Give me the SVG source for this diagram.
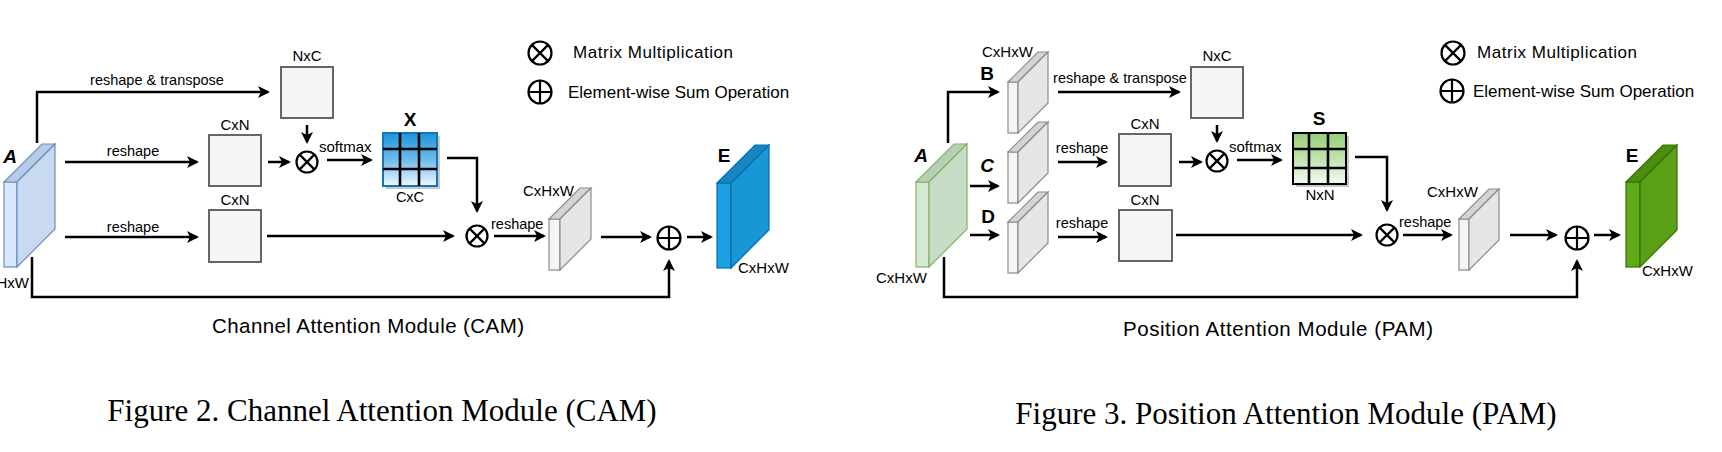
<svg xmlns="http://www.w3.org/2000/svg" width="1722" height="452" viewBox="0 0 1722 452">
<style>
text{font-family:"Liberation Sans",Arial,sans-serif;fill:#000}
.s14{font-size:14.5px}
.s15{font-size:15px}
.leg{font-size:17px}
.cap{font-size:20.5px}
.big{font-size:19px;font-weight:bold}
.bi{font-size:19px;font-weight:bold;font-style:italic}
.fig{font-family:"Liberation Serif","Times New Roman",serif;font-size:31px}
.mid{text-anchor:middle}
.end{text-anchor:end}
.ln{fill:none;stroke:#000;stroke-width:2.5}
.arr{marker-end:url(#ah)}
.op{fill:#fff;stroke:#000;stroke-width:2.2}
.opl{stroke:#000;stroke-width:2.2}
.box{fill:#f5f5f5;stroke:#666;stroke-width:2}
.gf{fill:#f5f5f5;stroke:#8c8c8c;stroke-width:1.2}
.gs{fill:#e6e6e6;stroke:#8c8c8c;stroke-width:1.2}
.gt{fill:#d4d4d4;stroke:#8c8c8c;stroke-width:1.2}
.bf{fill:#dae8fc;stroke:#6c8ebf;stroke-width:1.2}
.bs{fill:#c9d9ef;stroke:#6c8ebf;stroke-width:1.2}
.bt{fill:#b8cbe6;stroke:#6c8ebf;stroke-width:1.2}
.ef{fill:#1ba1e2;stroke:#006eaf;stroke-width:1.2}
.es{fill:#1996d4;stroke:#006eaf;stroke-width:1.2}
.et{fill:#1786c2;stroke:#006eaf;stroke-width:1.2}
.af{fill:#d5e8d4;stroke:#82b366;stroke-width:1.2}
.as{fill:#c7dcc5;stroke:#82b366;stroke-width:1.2}
.at{fill:#b7cfb5;stroke:#82b366;stroke-width:1.2}
.pf{fill:#60a917;stroke:#2d7600;stroke-width:1.2}
.ps{fill:#5a9f15;stroke:#2d7600;stroke-width:1.2}
.pt{fill:#4e8d12;stroke:#2d7600;stroke-width:1.2}
.gl{stroke:#000;stroke-width:2.6}
</style>
<defs>
<marker id="ah" viewBox="0 0 12 12" refX="10" refY="6" markerWidth="12" markerHeight="12" markerUnits="userSpaceOnUse" orient="auto">
<path d="M0,0 L12,6 L0,12 L3,6 z" fill="#000"/>
</marker>
<linearGradient id="gX" x1="0" y1="0" x2="0" y2="1">
<stop offset="0" stop-color="#1b95dd"/>
<stop offset="0.5" stop-color="#6dbbea"/>
<stop offset="1" stop-color="#eef8fd"/>
</linearGradient>
<linearGradient id="gS" x1="0" y1="0" x2="0" y2="1">
<stop offset="0" stop-color="#97cf77"/>
<stop offset="0.5" stop-color="#c2e2b0"/>
<stop offset="1" stop-color="#f4faf1"/>
</linearGradient>
</defs>

<!-- ===== CAM ===== -->
<g id="cam-legend">
<circle class="op" cx="540" cy="53" r="11.5"/>
<path class="opl" d="M531.9,44.9 L548.1,61.1 M548.1,44.9 L531.9,61.1"/>
<text class="leg" x="573" y="58" textLength="160">Matrix Multiplication</text>
<circle class="op" cx="540" cy="92" r="11.5"/>
<path class="opl" d="M528.5,92 H551.5 M540,80.5 V103.5"/>
<text class="leg" x="568" y="98">Element-wise Sum Operation</text>
</g>

<g id="cam-A">
<rect class="bf" x="4" y="182" width="13" height="85"/>
<polygon class="bt" points="4,182 42,144 55,144 17,182"/>
<polygon class="bs" points="17,182 55,144 55,229 17,267"/>
<text class="bi mid" x="10" y="163">A</text>
<text class="s15 end" x="29" y="288">CxHxW</text>
</g>

<g id="cam-NxC">
<rect class="box" x="281" y="67" width="52" height="51"/>
<text class="s15 mid" x="307" y="61">NxC</text>
</g>
<g id="cam-CxN1">
<rect class="box" x="209" y="135" width="52" height="51"/>
<text class="s15 mid" x="235" y="130">CxN</text>
</g>
<g id="cam-CxN2">
<rect class="box" x="209" y="210" width="52" height="52"/>
<text class="s15 mid" x="235" y="205">CxN</text>
</g>
<g id="cam-mul1">
<circle class="op" cx="307" cy="162" r="10.5"/>
<path class="opl" d="M299.6,154.6 L314.4,169.4 M314.4,154.6 L299.6,169.4"/>
</g>
<g id="cam-X">
<rect x="386" y="136" width="54" height="53" fill="#c8c8c8"/>
<rect x="383" y="133" width="54" height="53" fill="url(#gX)" stroke="#1574b3" stroke-width="2"/>
<path class="gl" d="M400,133 V186 M419,133 V186 M383,149 H437 M383,169 H437"/>
<text class="big mid" x="410" y="126">X</text>
<text class="s14 mid" x="410" y="202">CxC</text>
</g>
<g id="cam-mul2">
<circle class="op" cx="477" cy="236" r="10.5"/>
<path class="opl" d="M469.6,228.6 L484.4,243.4 M484.4,228.6 L469.6,243.4"/>
</g>
<g id="cam-feat">
<rect class="gf" x="549" y="219" width="11" height="51"/>
<polygon class="gt" points="549,219 580,188 591,188 560,219"/>
<polygon class="gs" points="560,219 591,188 591,239 560,270"/>
<text class="s15" x="523" y="196">CxHxW</text>
</g>
<g id="cam-sum">
<circle class="op" cx="669" cy="238" r="11.5"/>
<path class="opl" d="M657.5,238 H680.5 M669,226.5 V249.5"/>
</g>
<g id="cam-E">
<rect class="ef" x="717" y="183" width="14" height="85"/>
<polygon class="et" points="717,183 755,145 769,145 731,183"/>
<polygon class="es" points="731,183 769,145 769,230 731,268"/>
<text class="big mid" x="724" y="162">E</text>
<text class="s15" x="738" y="273">CxHxW</text>
</g>

<g id="cam-connectors">
<path class="ln arr" d="M37,143 V92 H268"/>
<path class="ln arr" d="M65,162 H197"/>
<path class="ln arr" d="M65,237 H197"/>
<path class="ln arr" d="M268,162 H289"/>
<path class="ln arr" d="M307,125 V142"/>
<path class="ln arr" d="M327,160 H371"/>
<path class="ln arr" d="M447,158 H477 V211"/>
<path class="ln arr" d="M267,236 H453"/>
<path class="ln arr" d="M494,236 H544"/>
<path class="ln arr" d="M601,237 H650"/>
<path class="ln arr" d="M687,237 H711"/>
<path class="ln arr" d="M32,257 V297 H669 V261"/>
<text class="s14 mid" x="157" y="85">reshape &amp; transpose</text>
<text class="s14 mid" x="133" y="156">reshape</text>
<text class="s14 mid" x="133" y="232">reshape</text>
<text class="s15" x="319" y="152">softmax</text>
<text class="s14" x="491" y="229">reshape</text>
</g>
<text class="cap mid" x="368" y="333" textLength="312">Channel Attention Module (CAM)</text>
<text class="fig mid" x="382" y="421">Figure 2. Channel Attention Module (CAM)</text>

<!-- ===== PAM ===== -->
<g id="pam-legend">
<circle class="op" cx="1453" cy="53" r="11.5"/>
<path class="opl" d="M1444.9,44.9 L1461.1,61.1 M1461.1,44.9 L1444.9,61.1"/>
<text class="leg" x="1477" y="58" textLength="160">Matrix Multiplication</text>
<circle class="op" cx="1452" cy="91" r="11.5"/>
<path class="opl" d="M1440.5,91 H1463.5 M1452,79.5 V102.5"/>
<text class="leg" x="1473" y="97">Element-wise Sum Operation</text>
</g>

<g id="pam-A">
<rect class="af" x="916" y="182" width="13" height="85"/>
<polygon class="at" points="916,182 954,144 967,144 929,182"/>
<polygon class="as" points="929,182 967,144 967,229 929,267"/>
<text class="bi mid" x="921" y="162">A</text>
<text class="s15" x="876" y="283">CxHxW</text>
</g>
<g id="pam-B">
<rect class="gf" x="1008" y="82" width="10" height="51"/>
<polygon class="gt" points="1008,82 1038,52 1048,52 1018,82"/>
<polygon class="gs" points="1018,82 1048,52 1048,103 1018,133"/>
<text class="big mid" x="987" y="80">B</text>
<text class="s15" x="982" y="57">CxHxW</text>
</g>
<g id="pam-C">
<rect class="gf" x="1008" y="152" width="10" height="51"/>
<polygon class="gt" points="1008,152 1038,122 1048,122 1018,152"/>
<polygon class="gs" points="1018,152 1048,122 1048,173 1018,203"/>
<text class="bi mid" x="987" y="172">C</text>
</g>
<g id="pam-D">
<rect class="gf" x="1008" y="222" width="10" height="51"/>
<polygon class="gt" points="1008,222 1038,192 1048,192 1018,222"/>
<polygon class="gs" points="1018,222 1048,192 1048,243 1018,273"/>
<text class="big mid" x="988" y="223">D</text>
</g>
<g id="pam-NxC">
<rect class="box" x="1191" y="67" width="52" height="51"/>
<text class="s15 mid" x="1217" y="61">NxC</text>
</g>
<g id="pam-CxN1">
<rect class="box" x="1119" y="134" width="52" height="52"/>
<text class="s15 mid" x="1145" y="129">CxN</text>
</g>
<g id="pam-CxN2">
<rect class="box" x="1119" y="210" width="53" height="51"/>
<text class="s15 mid" x="1145" y="205">CxN</text>
</g>
<g id="pam-mul1">
<circle class="op" cx="1217" cy="161" r="10.5"/>
<path class="opl" d="M1209.6,153.6 L1224.4,168.4 M1224.4,153.6 L1209.6,168.4"/>
</g>
<g id="pam-S">
<rect x="1296" y="136" width="53" height="51" fill="#c8c8c8"/>
<rect x="1293" y="133" width="53" height="51" fill="url(#gS)" stroke="#000" stroke-width="2"/>
<path class="gl" d="M1309,133 V184 M1328,133 V184 M1293,149 H1346 M1293,168 H1346"/>
<text class="big mid" x="1319" y="125">S</text>
<text class="s15 mid" x="1320" y="200">NxN</text>
</g>
<g id="pam-mul2">
<circle class="op" cx="1387" cy="235" r="10.5"/>
<path class="opl" d="M1379.6,227.6 L1394.4,242.4 M1394.4,227.6 L1379.6,242.4"/>
</g>
<g id="pam-feat">
<rect class="gf" x="1459" y="219" width="10" height="51"/>
<polygon class="gt" points="1459,219 1489,189 1499,189 1469,219"/>
<polygon class="gs" points="1469,219 1499,189 1499,240 1469,270"/>
<text class="s15" x="1427" y="197">CxHxW</text>
</g>
<g id="pam-sum">
<circle class="op" cx="1577" cy="238" r="11.5"/>
<path class="opl" d="M1565.5,238 H1588.5 M1577,226.5 V249.5"/>
</g>
<g id="pam-E">
<rect class="pf" x="1626" y="182" width="14" height="85"/>
<polygon class="pt" points="1626,182 1663,145 1677,145 1640,182"/>
<polygon class="ps" points="1640,182 1677,145 1677,230 1640,267"/>
<text class="big mid" x="1632" y="162">E</text>
<text class="s15" x="1642" y="276">CxHxW</text>
</g>

<g id="pam-connectors">
<path class="ln arr" d="M948,143 V92 H998"/>
<path class="ln arr" d="M970,186 H998"/>
<path class="ln arr" d="M970,235 H998"/>
<path class="ln arr" d="M1058,92 H1179"/>
<path class="ln arr" d="M1058,162 H1106"/>
<path class="ln arr" d="M1058,237 H1106"/>
<path class="ln arr" d="M1217,125 V141"/>
<path class="ln arr" d="M1179,162 H1201"/>
<path class="ln arr" d="M1237,160 H1281"/>
<path class="ln arr" d="M1355,157 H1387 V210"/>
<path class="ln arr" d="M1176,235 H1361"/>
<path class="ln arr" d="M1403,235 H1451"/>
<path class="ln arr" d="M1510,235 H1556"/>
<path class="ln arr" d="M1594,235 H1619"/>
<path class="ln arr" d="M944,257 V297 H1577 V261"/>
<text class="s14 mid" x="1120" y="83">reshape &amp; transpose</text>
<text class="s14 mid" x="1082" y="153">reshape</text>
<text class="s14 mid" x="1082" y="228">reshape</text>
<text class="s15" x="1229" y="152">softmax</text>
<text class="s14" x="1399" y="227">reshape</text>
</g>
<text class="cap mid" x="1278" y="336" textLength="310">Position Attention Module (PAM)</text>
<text class="fig mid" x="1286" y="424">Figure 3. Position Attention Module (PAM)</text>
</svg>
